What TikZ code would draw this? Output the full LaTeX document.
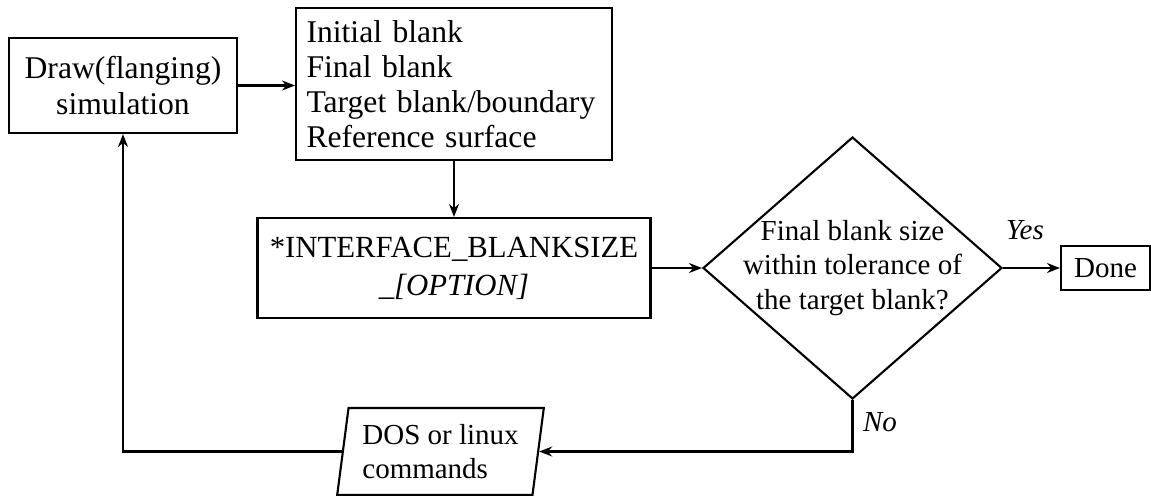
\documentclass[tikz,border=0pt]{standalone}
\usepackage{fontspec}
\setmainfont{Liberation Serif}
\usetikzlibrary{shapes.geometric,arrows.meta}
\newcommand{\bigtxt}{\fontsize{18}{20}\selectfont}
\newcommand{\midtxt}{\fontsize{17.5}{21.5}\selectfont}
\newcommand{\smtxt}{\fontsize{16.5}{19.5}\selectfont}
\begin{document}
\begin{tikzpicture}[x=0.02cm,y=-0.02cm,line width=1.2pt,
  every node/.style={draw,inner sep=0pt},
  box/.style={rectangle,font=\bigtxt,align=center},
  arr/.style={-{Stealth[length=2.6mm,width=2mm]}},
  lbl/.style={draw=none,font=\smtxt\itshape}]
\useasboundingbox (0,0) rectangle (1151,495);
\node[box,minimum width=4.56cm,minimum height=1.9cm] (sim) at (123,85.5) {Draw(flanging)\\simulation};
\node[box,align=left,minimum width=6.32cm,minimum height=3.04cm,text width=5.9cm] (list) at (454,84) {Initial blank\\Final blank\\Target blank/boundary\\Reference surface};
\node[box,font=\midtxt,minimum width=7.86cm,minimum height=2cm] (iface) at (454,268) {*INTERFACE\_BLANKSIZE\\\_\textit{[OPTION]}};
\node[diamond,aspect=1.14,minimum width=5.98cm,minimum height=5.24cm] (dec) at (852.5,268) {};
\node[draw=none,font=\smtxt,align=center] (dectxt) at (dec) {Final blank size\\within tolerance of\\the target blank?};
\node[rectangle,font=\smtxt,minimum width=1.78cm,minimum height=0.88cm] (done) at (1105.5,268) {Done};
\node[trapezium,trapezium left angle=80,trapezium right angle=100,trapezium stretches=true,font=\smtxt,align=left,minimum width=4.14cm,minimum height=1.74cm] (dos) at (440.5,451.5) {DOS or linux\\commands};
\draw[arr] (sim.east) -- (sim.east -| list.west);
\draw[arr] (list) -- (iface);
\draw[arr] (iface) -- (dec);
\draw[arr] (dec) -- (done);
\draw[arr] (dec.south) |- (dos.east);
\draw[arr] (dos.west) -| (sim.south);
\node[lbl] (yes) at (1025,230) {Yes};
\node[lbl] (no) at (880,422) {No};
\end{tikzpicture}
\end{document}
